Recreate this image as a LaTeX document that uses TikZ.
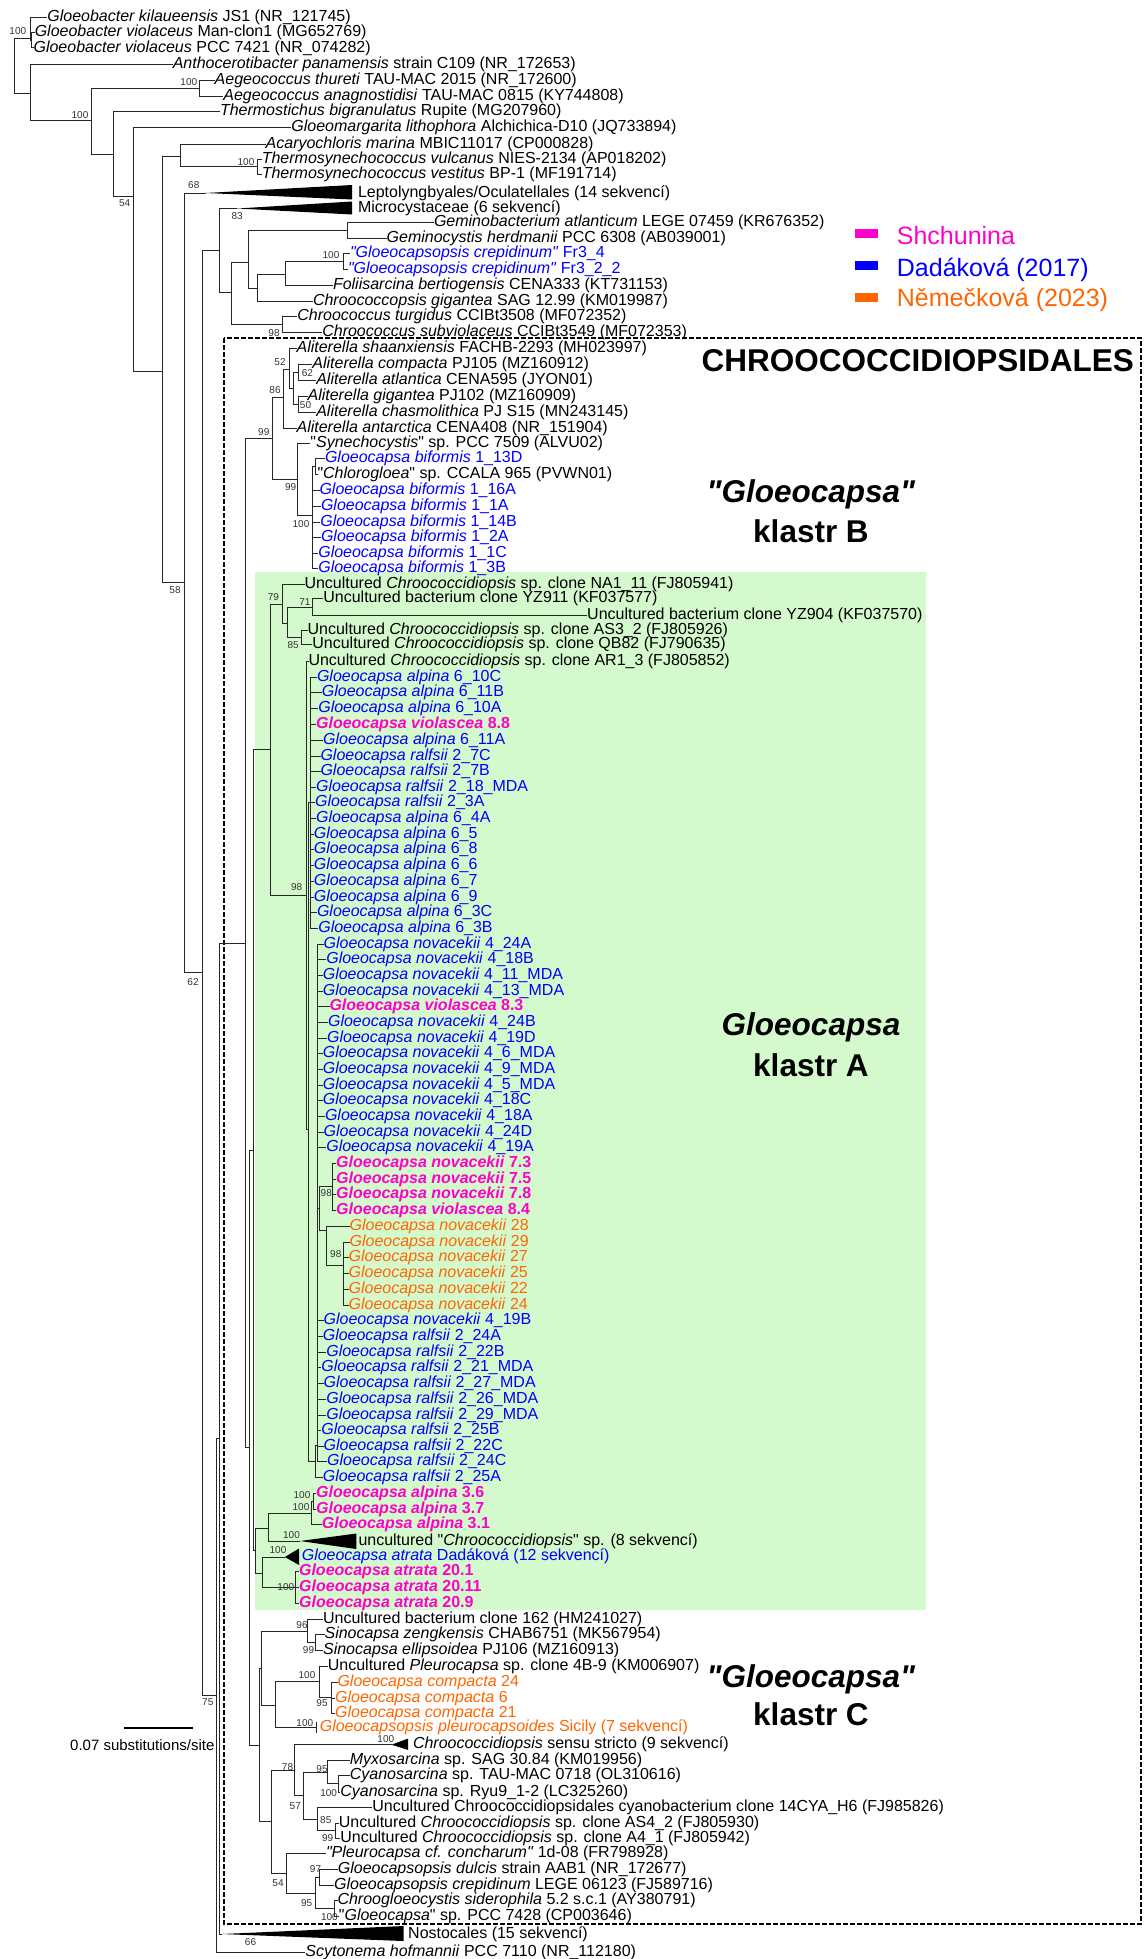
\documentclass[tikz,border=0pt]{standalone}
\usepackage{fontspec}
\setmainfont{Liberation Sans}
\definecolor{dblue}{RGB}{0,0,255}
\definecolor{shmag}{RGB}{255,0,204}
\definecolor{nor}{RGB}{255,102,0}
\definecolor{greenbg}{RGB}{212,249,204}
\newcommand{\lbl}{\fontsize{16}{18}\selectfont}
\newcommand{\bsz}{\fontsize{10}{12}\selectfont}
\newcommand{\lgd}{\fontsize{25}{28}\selectfont}
\newcommand{\clf}{\fontsize{31.5}{34}\selectfont}
\newcommand{\sbf}{\fontsize{15}{17}\selectfont}
\newcommand{\qd}{\textquotedbl}
\newcommand{\GAl}{\textit{Gloeocapsa alpina}}
\newcommand{\GRa}{\textit{Gloeocapsa ralfsii}}
\newcommand{\GNo}{\textit{Gloeocapsa novacekii}}
\newcommand{\GVi}{\textit{Gloeocapsa violascea}}
\newcommand{\GBi}{\textit{Gloeocapsa biformis}}
\newcommand{\UCh}{Uncultured \textit{Chroococcidiopsis} sp. clone}
\begin{document}
\begin{tikzpicture}[x=1pt,y=-1pt,
 br/.style={line width=1pt, draw=black!85},
 leaf/.style={anchor=west, inner sep=0pt, outer sep=0pt, font=\lbl, text height=11.6pt, text depth=3.4pt},
 lb/.style={leaf, text=dblue},
 lm/.style={leaf, text=shmag, font=\lbl\bfseries},
 lo/.style={leaf, text=nor},
 bs/.style={font=\bsz, text=black!80, inner sep=0pt},
 tri/.style={fill=black},
 clab/.style={font=\clf\bfseries, inner sep=0pt, text height=22.9pt, text depth=6.6pt},
 key/.style={minimum width=22.6pt, minimum height=9pt, inner sep=0pt, draw=none},
 lgt/.style={anchor=west, font=\lgd, inner sep=0pt, text height=18.2pt, text depth=5.25pt},
 dashbox/.style={line width=2.2pt, dash pattern=on 4.5pt off 2.5pt}
]
\useasboundingbox (0,0) rectangle (1144,1959);
\fill[white] (0,0) rectangle (1144,1959);
\fill[greenbg] (255,572) rectangle (926,1609.5);
\draw[dashbox] (224.3,338) rectangle (1141,1924);

% ---------- leaves ----------
\node[leaf] (L1) at (47.4,17.5) {\textit{Gloeobacter kilaueensis} JS1 (NR\_121745)};
\node[leaf] (L2) at (34.8,32.7) {\textit{Gloeobacter violaceus} Man-clon1 (MG652769)};
\node[leaf] (L3) at (33.6,48) {\textit{Gloeobacter violaceus} PCC 7421 (NR\_074282)};
\node[leaf] (L4) at (172.8,64.7) {\textit{Anthocerotibacter panamensis} strain C109 (NR\_172653)};
\node[leaf] (L5) at (214.7,80.5) {\textit{Aegeococcus thureti} TAU-MAC 2015 (NR\_172600)};
\node[leaf] (L6) at (223.4,96.3) {\textit{Aegeococcus anagnostidisi} TAU-MAC 0815 (KY744808)};
\node[leaf] (L7) at (220,111.5) {\textit{Thermostichus bigranulatus} Rupite (MG207960)};
\node[leaf] (L8) at (291.4,127.3) {\textit{Gloeomargarita lithophora} Alchichica-D10 (JQ733894)};
\node[leaf] (L9) at (265.7,144.2) {\textit{Acaryochloris marina} MBIC11017 (CP000828)};
\node[leaf] (L10) at (261.8,159) {\textit{Thermosynechococcus vulcanus} NIES-2134 (AP018202)};
\node[leaf] (L11) at (261.8,174.7) {\textit{Thermosynechococcus vestitus} BP-1 (MF191714)};
\node[leaf] (L12) at (358,193) {Leptolyngbyales/Oculatellales (14 sekvencí)};
\node[leaf] (L13) at (358,208.5) {Microcystaceae (6 sekvencí)};
\node[leaf] (L14) at (434,222.5) {\textit{Geminobacterium atlanticum} LEGE 07459 (KR676352)};
\node[leaf] (L15) at (386.7,238.5) {\textit{Geminocystis herdmanii} PCC 6308 (AB039001)};
\node[lb] (L16) at (350,253.7) {\textit{\qd Gloeocapsopsis crepidinum\qd} Fr3\_4};
\node[lb] (L17) at (348,269.3) {\textit{\qd Gloeocapsopsis crepidinum\qd} Fr3\_2\_2};
\node[leaf] (L18) at (333,285.3) {\textit{Foliisarcina bertiogensis} CENA333 (KT731153)};
\node[leaf] (L19) at (313,301) {\textit{Chroococcopsis gigantea} SAG 12.99 (KM019987)};
\node[leaf] (L20) at (297.4,316.3) {\textit{Chroococcus turgidus} CCIBt3508 (MF072352)};
\node[leaf] (L21) at (322.3,332) {\textit{Chroococcus subviolaceus} CCIBt3549 (MF072353)};
\node[leaf] (L22) at (296.6,348.7) {\textit{Aliterella shaanxiensis} FACHB-2293 (MH023997)};
\node[leaf] (L23) at (312.4,364.7) {\textit{Aliterella compacta} PJ105 (MZ160912)};
\node[leaf] (L24) at (316.3,380.3) {\textit{Aliterella atlantica} CENA595 (JYON01)};
\node[leaf] (L25) at (307.6,396) {\textit{Aliterella gigantea} PJ102 (MZ160909)};
\node[leaf] (L26) at (316.3,412) {\textit{Aliterella chasmolithica} PJ S15 (MN243145)};
\node[leaf] (L27) at (296.6,428) {\textit{Aliterella antarctica} CENA408 (NR\_151904)};
\node[leaf] (L28) at (310.4,443.7) {\qd\textit{Synechocystis}\qd{} sp. PCC 7509 (ALVU02)};
\node[lb] (L29) at (325,458.7) {\GBi{} 1\_13D};
\node[leaf] (L30) at (317.5,474.7) {\qd\textit{Chlorogloea}\qd{} sp. CCALA 965 (PVWN01)};
\node[lb] (L31) at (319.5,490.3) {\GBi{} 1\_16A};
\node[lb] (L32) at (321,506) {\GBi{} 1\_1A};
\node[lb] (L33) at (320.3,522) {\GBi{} 1\_14B};
\node[lb] (L34) at (321,537.7) {\GBi{} 1\_2A};
\node[lb] (L35) at (318.3,553) {\GBi{} 1\_1C};
\node[lb] (L36) at (318.3,568.7) {\GBi{} 1\_3B};
\node[leaf] (L37) at (304.5,584.5) {\UCh{} NA1\_11 (FJ805941)};
\node[leaf] (L38) at (323.4,598.7) {Uncultured bacterium clone YZ911 (KF037577)};
\node[leaf] (L39) at (587.2,615.3) {Uncultured bacterium clone YZ904 (KF037570)};
\node[leaf] (L40) at (307.6,630.3) {\UCh{} AS3\_2 (FJ805926)};
\node[leaf] (L41) at (312.4,644.7) {\UCh{} QB82 (FJ790635)};
\node[leaf] (L42) at (308.5,661.3) {\UCh{} AR1\_3 (FJ805852)};
\node[lb] (L43) at (317,677) {\GAl{} 6\_10C};
\node[lb] (L44) at (321.9,692.7) {\GAl{} 6\_11B};
\node[lb] (L45) at (318.3,708.7) {\GAl{} 6\_10A};
\node[lm] (L46) at (316.1,724) {\GVi{} 8.8};
\node[lb] (L47) at (323.2,740.3) {\GAl{} 6\_11A};
\node[lb] (L48) at (320.5,756) {\GRa{} 2\_7C};
\node[lb] (L49) at (320.5,771.3) {\GRa{} 2\_7B};
\node[lb] (L50) at (316.1,787) {\GRa{} 2\_18\_MDA};
\node[lb] (L51) at (315.2,802.7) {\GRa{} 2\_3A};
\node[lb] (L52) at (316.1,818.7) {\GAl{} 6\_4A};
\node[lb] (L53) at (313.8,834.3) {\GAl{} 6\_5};
\node[lb] (L54) at (313.8,849.7) {\GAl{} 6\_8};
\node[lb] (L55) at (313.8,865.3) {\GAl{} 6\_6};
\node[lb] (L56) at (313.8,881) {\GAl{} 6\_7};
\node[lb] (L57) at (313.8,897) {\GAl{} 6\_9};
\node[lb] (L58) at (317,912.7) {\GAl{} 6\_3C};
\node[lb] (L59) at (318.3,928) {\GAl{} 6\_3B};
\node[lb] (L60) at (323.7,944.3) {\GNo{} 4\_24A};
\node[lb] (L61) at (326.3,959.3) {\GNo{} 4\_18B};
\node[lb] (L62) at (322.8,975.3) {\GNo{} 4\_11\_MDA};
\node[lb] (L63) at (322.8,991) {\GNo{} 4\_13\_MDA};
\node[lm] (L64) at (329.5,1006.3) {\GVi{} 8.3};
\node[lb] (L65) at (328.1,1022.3) {\GNo{} 4\_24B};
\node[lb] (L66) at (327.2,1038) {\GNo{} 4\_19D};
\node[lb] (L67) at (322.8,1053.7) {\GNo{} 4\_6\_MDA};
\node[lb] (L68) at (322.8,1069.3) {\GNo{} 4\_9\_MDA};
\node[lb] (L69) at (322.8,1085) {\GNo{} 4\_5\_MDA};
\node[lb] (L70) at (322.8,1100.7) {\GNo{} 4\_18C};
\node[lb] (L71) at (325,1116.3) {\GNo{} 4\_18A};
\node[lb] (L72) at (323.7,1132) {\GNo{} 4\_24D};
\node[lb] (L73) at (326.3,1147.7) {\GNo{} 4\_19A};
\node[lm] (L74) at (336.2,1163.3) {\GNo{} 7.3};
\node[lm] (L75) at (336.2,1179) {\GNo{} 7.5};
\node[lm] (L76) at (336.2,1194.7) {\GNo{} 7.8};
\node[lm] (L77) at (336.2,1210.3) {\GVi{} 8.4};
\node[lo] (L78) at (349.6,1226.3) {\GNo{} 28};
\node[lo] (L79) at (349.6,1242) {\GNo{} 29};
\node[lo] (L80) at (348.7,1257.7) {\GNo{} 27};
\node[lo] (L81) at (348.7,1273.7) {\GNo{} 25};
\node[lo] (L82) at (348.7,1289.3) {\GNo{} 22};
\node[lo] (L83) at (348.7,1305) {\GNo{} 24};
\node[lb] (L84) at (323.7,1320.7) {\GNo{} 4\_19B};
\node[lb] (L85) at (322.8,1336.3) {\GRa{} 2\_24A};
\node[lb] (L86) at (326.3,1352) {\GRa{} 2\_22B};
\node[lb] (L87) at (321.4,1367.7) {\GRa{} 2\_21\_MDA};
\node[lb] (L88) at (323.7,1383.3) {\GRa{} 2\_27\_MDA};
\node[lb] (L89) at (326.3,1399) {\GRa{} 2\_26\_MDA};
\node[lb] (L90) at (326.3,1415) {\GRa{} 2\_29\_MDA};
\node[lb] (L91) at (321.4,1430.3) {\GRa{} 2\_25B};
\node[lb] (L92) at (323.7,1446) {\GRa{} 2\_22C};
\node[lb] (L93) at (327.2,1461.7) {\GRa{} 2\_24C};
\node[lb] (L94) at (322.8,1477.7) {\GRa{} 2\_25A};
\node[lm] (L95) at (316.1,1493.3) {\GAl{} 3.6};
\node[lm] (L96) at (316.1,1509) {\GAl{} 3.7};
\node[lm] (L97) at (321.9,1524.7) {\GAl{} 3.1};
\node[leaf] (L98) at (358.5,1541) {uncultured \qd\textit{Chroococcidiopsis}\qd{} sp. (8 sekvencí)};
\node[lb] (L99) at (301.8,1556) {\textit{Gloeocapsa atrata} Dadáková (12 sekvencí)};
\node[lm] (L100) at (299.1,1571.7) {\textit{Gloeocapsa atrata} 20.1};
\node[lm] (L101) at (299.2,1587.7) {\textit{Gloeocapsa atrata} 20.11};
\node[lm] (L102) at (299.2,1603.7) {\textit{Gloeocapsa atrata} 20.9};
\node[leaf] (L103) at (323.1,1619.7) {Uncultured bacterium clone 162 (HM241027)};
\node[leaf] (L104) at (324.6,1634.7) {\textit{Sinocapsa zengkensis} CHAB6751 (MK567954)};
\node[leaf] (L105) at (323.1,1650.7) {\textit{Sinocapsa ellipsoidea} PJ106 (MZ160913)};
\node[leaf] (L106) at (327.9,1666.3) {Uncultured \textit{Pleurocapsa} sp. clone 4B-9 (KM006907)};
\node[lo] (L107) at (337.5,1682) {\textit{Gloeocapsa compacta} 24};
\node[lo] (L108) at (335.1,1698) {\textit{Gloeocapsa compacta} 6};
\node[lo] (L109) at (335.1,1713) {\textit{Gloeocapsa compacta} 21};
\node[lo] (L110) at (319.8,1727.5) {\textit{Gloeocapsopsis pleurocapsoides} Sicily (7 sekvencí)};
\node[leaf] (L111) at (413,1744.7) {\textit{Chroococcidiopsis} sensu stricto (9 sekvencí)};
\node[leaf] (L112) at (349.9,1760.3) {\textit{Myxosarcina} sp. SAG 30.84 (KM019956)};
\node[leaf] (L113) at (349.9,1775.3) {\textit{Cyanosarcina} sp. TAU-MAC 0718 (OL310616)};
\node[leaf] (L114) at (340.3,1792) {\textit{Cyanosarcina} sp. Ryu9\_1-2 (LC325260)};
\node[leaf] (L115) at (372.4,1807.3) {Uncultured Chroococcidiopsidales cyanobacterium clone 14CYA\_H6 (FJ985826)};
\node[leaf] (L116) at (338.9,1823) {\UCh{} AS4\_2 (FJ805930)};
\node[leaf] (L117) at (340.3,1838.7) {\UCh{} A4\_1 (FJ805942)};
\node[leaf] (L118) at (326,1853.7) {\textit{\qd Pleurocapsa cf. concharum\qd} 1d-08 (FR798928)};
\node[leaf] (L119) at (337.9,1869.7) {\textit{Gloeocapsopsis dulcis} strain AAB1 (NR\_172677)};
\node[leaf] (L120) at (334.1,1885.3) {\textit{Gloeocapsopsis crepidinum} LEGE 06123 (FJ589716)};
\node[leaf] (L121) at (337.5,1900.3) {\textit{Chroogloeocystis siderophila} 5.2 s.c.1 (AY380791)};
\node[leaf] (L122) at (338.9,1916.3) {\qd\textit{Gloeocapsa}\qd{} sp. PCC 7428 (CP003646)};
\node[leaf] (L123) at (408.2,1934) {Nostocales (15 sekvencí)};
\node[leaf] (L124) at (305.4,1952.5) {\textit{Scytonema hofmannii} PCC 7110 (NR\_112180)};

% ---------- internal nodes ----------
\coordinate (r0) at (14.6,65.5);
\coordinate (g0) at (30.8,38.3);
\coordinate (g1) at (31.6,40.3);
\coordinate (nA) at (30.8,93);
\coordinate (nB) at (91.7,120.7);
\coordinate (nAeg) at (199.7,88.6);
\coordinate (nC) at (113.5,154.3);
\coordinate (nD) at (133.3,196);
\coordinate (nE) at (162,371);
\coordinate (nF) at (180.7,156);
\coordinate (nTs) at (257,166.8);
\coordinate (nG) at (184.7,582.4);
\coordinate (nH) at (202.4,972);
\coordinate (nJ) at (219.5,250);
\coordinate (nL) at (231.3,292);
\coordinate (nM) at (248.3,262);
\coordinate (nCc) at (282.7,324.2);
\coordinate (nGem) at (347.2,230.5);
\coordinate (nN) at (257,288);
\coordinate (nO) at (285.9,274);
\coordinate (nGc) at (343.2,261.5);
\coordinate (nK) at (216,1695.7);
\coordinate (nN2) at (219.3,1438.5);
\coordinate (nCH) at (245.5,943);
\coordinate (nAB) at (272.8,438.2);
\coordinate (n86) at (283.9,397);
\coordinate (n52) at (289.5,369);
\coordinate (n5x) at (293.5,388.5);
\coordinate (n62) at (298,372.5);
\coordinate (n50) at (298,404);
\coordinate (n99b) at (297.3,479.3);
\coordinate (n100b) at (312.4,515);
\coordinate (nb1) at (315.2,466.7);
\coordinate (nAC) at (249,1447.5);
\coordinate (nGreen) at (253.5,1150.2);
\coordinate (nR) at (270.7,749.6);
\coordinate (nS) at (282.7,604);
\coordinate (n71g) at (287.9,623.3);
\coordinate (n71) at (312.4,607);
\coordinate (n85u) at (301.3,637.5);
\coordinate (nT) at (306,895);
\coordinate (nU) at (308.5,1129);
\coordinate (nA1) at (310.3,802.5);
\coordinate (nBq) at (315.2,1461);
\coordinate (nBB) at (317.4,1445);
\coordinate (nMO) at (319.6,1208.4);
\coordinate (nM98) at (332.6,1186.8);
\coordinate (nOr) at (326.3,1230);
\coordinate (nO98) at (343.8,1265.7);
\coordinate (nBot) at (255.5,1550.8);
\coordinate (nUA) at (268.3,1528.5);
\coordinate (nAl3) at (311.7,1513);
\coordinate (nAl36) at (313.5,1501);
\coordinate (nAtr) at (262.7,1573);
\coordinate (n20) at (295,1587.7);
\coordinate (nCk) at (259.5,1745);
\coordinate (nC2) at (261,1668);
\coordinate (n96) at (307.8,1631);
\coordinate (n99s) at (315,1642.7);
\coordinate (nPl) at (275.3,1705);
\coordinate (n100p) at (319.8,1681.7);
\coordinate (n95c) at (331.7,1697.5);
\coordinate (bar110) at (316.4,1727.5);
\coordinate (nLow) at (271.7,1821.7);
\coordinate (n78) at (294,1770);
\coordinate (n57) at (303.3,1795.5);
\coordinate (n95m) at (327.9,1772);
\coordinate (n100c) at (338,1783.6);
\coordinate (nUnc) at (317.4,1819);
\coordinate (n85b) at (335.6,1830.9);
\coordinate (n54) at (286.3,1873.3);
\coordinate (n95g) at (315,1893);
\coordinate (n97) at (319.8,1877.5);
\coordinate (n100g) at (334.1,1908.3);
% triangle tips
\coordinate (t12) at (205.6,193);
\coordinate (t13) at (237.2,208.5);
\coordinate (t98) at (300,1541);
\coordinate (t99) at (284.8,1557);
\coordinate (t111) at (391.5,1744.7);
\coordinate (t123) at (221.7,1934);

% ---------- collapsed clades ----------
\fill[tri] (t12) -- (352,185) -- (352,199.5) -- cycle;
\fill[tri] (t13) -- (352,201.5) -- (352,214.5) -- cycle;
\fill[tri] (t98) -- (356.3,1533.5) -- (356.3,1549) -- cycle;
\fill[tri] (t99) -- (299.1,1548.5) -- (299.1,1565) -- cycle;
\fill[tri] (t111) -- (408.2,1738.5) -- (408.2,1750) -- cycle;
\fill[tri] (t123) -- (403.5,1926) -- (403.5,1941) -- cycle;
\draw[br] (316.4,1722) -- (316.4,1733);

% ---------- branches ----------
\draw[br] (r0) |- (g0);  \draw[br] (r0) |- (nA);
\draw[br] (g0) |- (L1.west); \draw[br] (g0) |- (g1);
\draw[br] (g1) |- (L2.west); \draw[br] (g1) |- (L3.west);
\draw[br] (nA) |- (L4.west); \draw[br] (nA) |- (nB);
\draw[br] (nB) |- (nAeg); \draw[br] (nB) |- (nC);
\draw[br] (nAeg) |- (L5.west); \draw[br] (nAeg) |- (L6.west);
\draw[br] (nC) |- (L7.west); \draw[br] (nC) |- (nD);
\draw[br] (nD) |- (L8.west); \draw[br] (nD) |- (nE);
\draw[br] (nE) |- (nF); \draw[br] (nE) |- (nG);
\draw[br] (nF) |- (L9.west); \draw[br] (nF) |- (nTs);
\draw[br] (nTs) |- (L10.west); \draw[br] (nTs) |- (L11.west);
\draw[br] (nG) |- (t12); \draw[br] (nG) |- (nH);
\draw[br] (nH) |- (nJ); \draw[br] (nH) |- (nK);
\draw[br] (nJ) |- (t13); \draw[br] (nJ) |- (nL);
\draw[br] (nL) |- (nM); \draw[br] (nL) |- (nCc);
\draw[br] (nCc) |- (L20.west); \draw[br] (nCc) |- (L21.west);
\draw[br] (nM) |- (nGem); \draw[br] (nM) |- (nN);
\draw[br] (nGem) |- (L14.west); \draw[br] (nGem) |- (L15.west);
\draw[br] (nN) |- (nO); \draw[br] (nN) |- (L19.west);
\draw[br] (nO) |- (nGc); \draw[br] (nO) |- (L18.west);
\draw[br] (nGc) |- (L16.west); \draw[br] (nGc) |- (L17.west);
\draw[br] (nK) |- (nN2); \draw[br] (nK) |- (L124.west);
\draw[br] (nN2) |- (nCH); \draw[br] (nN2) |- (t123);
\draw[br] (nCH) |- (nAB); \draw[br] (nCH) |- (nAC);
\draw[br] (nAB) |- (n86); \draw[br] (nAB) |- (n99b);
\draw[br] (n86) |- (n52); \draw[br] (n86) |- (L27.west);
\draw[br] (n52) |- (L22.west); \draw[br] (n52) |- (n5x);
\draw[br] (n5x) |- (n62); \draw[br] (n5x) |- (n50);
\draw[br] (n62) |- (L23.west); \draw[br] (n62) |- (L24.west);
\draw[br] (n50) |- (L25.west); \draw[br] (n50) |- (L26.west);
\draw[br] (n99b) |- (L28.west); \draw[br] (n99b) |- (n100b);
\draw[br] (n100b) |- (nb1);
\foreach \i in {31,...,36} \draw[br] (n100b) |- (L\i.west);
\draw[br] (nb1) |- (L29.west); \draw[br] (nb1) |- (L30.west);
\draw[br] (nAC) |- (nGreen); \draw[br] (nAC) |- (nCk);
\draw[br] (nGreen) |- (nR); \draw[br] (nGreen) |- (nBot);
\draw[br] (nR) |- (nS); \draw[br] (nR) |- (nT);
\draw[br] (nS) |- (L37.west); \draw[br] (nS) |- (n71g);
\draw[br] (n71g) |- (n71); \draw[br] (n71g) |- (n85u);
\draw[br] (n71) |- (L38.west); \draw[br] (n71) |- (L39.west);
\draw[br] (n85u) |- (L40.west); \draw[br] (n85u) |- (L41.west);
\draw[br] (nT) |- (L42.west); \draw[br] (nT) |- (nU);
\draw[br] (nU) |- (nA1); \draw[br] (nU) |- (nBq);
\foreach \i in {43,...,59} \draw[br] (nA1) |- (L\i.west);
\draw[br] (nBq) |- (nBB); \draw[br] (nBq) |- (L94.west);
\foreach \i in {60,...,73} \draw[br] (nBB) |- (L\i.west);
\foreach \i in {84,...,93} \draw[br] (nBB) |- (L\i.west);
\draw[br] (nBB) |- (nMO);
\draw[br] (nMO) |- (nM98); \draw[br] (nMO) |- (nOr);
\foreach \i in {74,...,77} \draw[br] (nM98) |- (L\i.west);
\draw[br] (nOr) |- (L78.west); \draw[br] (nOr) |- (nO98);
\foreach \i in {79,...,83} \draw[br] (nO98) |- (L\i.west);
\draw[br] (nBot) |- (nUA); \draw[br] (nBot) |- (nAtr);
\draw[br] (nUA) |- (nAl3); \draw[br] (nUA) |- (t98);
\draw[br] (nAl3) |- (nAl36); \draw[br] (nAl3) |- (L97.west);
\draw[br] (nAl36) |- (L95.west); \draw[br] (nAl36) |- (L96.west);
\draw[br] (nAtr) |- (t99); \draw[br] (nAtr) |- (n20);
\foreach \i in {100,101,102} \draw[br] (n20) |- (L\i.west);
\draw[br] (nCk) |- (nC2); \draw[br] (nCk) |- (nLow);
\draw[br] (nC2) |- (n96); \draw[br] (nC2) |- (nPl);
\draw[br] (n96) |- (L103.west); \draw[br] (n96) |- (n99s);
\draw[br] (n99s) |- (L104.west); \draw[br] (n99s) |- (L105.west);
\draw[br] (nPl) |- (n100p); \draw[br] (nPl) |- (bar110);
\draw[br] (n100p) |- (L106.west); \draw[br] (n100p) |- (n95c);
\foreach \i in {107,108,109} \draw[br] (n95c) |- (L\i.west);
\draw[br] (nLow) |- (n78); \draw[br] (nLow) |- (n54);
\draw[br] (n78) |- (t111); \draw[br] (n78) |- (n57);
\draw[br] (n57) |- (n95m); \draw[br] (n57) |- (nUnc);
\draw[br] (n95m) |- (L112.west); \draw[br] (n95m) |- (n100c);
\draw[br] (n100c) |- (L113.west); \draw[br] (n100c) |- (L114.west);
\draw[br] (nUnc) |- (L115.west); \draw[br] (nUnc) |- (n85b);
\draw[br] (n85b) |- (L116.west); \draw[br] (n85b) |- (L117.west);
\draw[br] (n54) |- (L118.west); \draw[br] (n54) |- (n95g);
\draw[br] (n95g) |- (n97); \draw[br] (n95g) |- (n100g);
\draw[br] (n97) |- (L119.west); \draw[br] (n97) |- (L120.west);
\draw[br] (n100g) |- (L121.west); \draw[br] (n100g) |- (L122.west);

% ---------- bootstrap values ----------
\node[bs] (b1) at (17.8,30.7) {100};
\node[bs] (b2) at (188.8,81.7) {100};
\node[bs] (b3) at (80,115) {100};
\node[bs] (b4) at (124.6,203.3) {54};
\node[bs] (b5) at (246,162.3) {100};
\node[bs] (b6) at (193.8,185) {68};
\node[bs] (b7) at (237.2,216.5) {83};
\node[bs] (b8) at (331,255) {100};
\node[bs] (b9) at (274,333.3) {98};
\node[bs] (b10) at (280,361.7) {52};
\node[bs] (b11) at (307.4,373.3) {62};
\node[bs] (b12) at (275,390) {86};
\node[bs] (b13) at (305.5,405) {50};
\node[bs] (b14) at (263.8,431.7) {99};
\node[bs] (b15) at (290.6,486.7) {99};
\node[bs] (b16) at (301,524) {100};
\node[bs] (b17) at (175,590) {58};
\node[bs] (b18) at (273.4,596.7) {79};
\node[bs] (b19) at (304.9,601.7) {71};
\node[bs] (b20) at (293.2,645) {85};
\node[bs] (b21) at (296.6,887.3) {98};
\node[bs] (b22) at (193,981.7) {62};
\node[bs] (b23) at (326.3,1192.7) {98};
\node[bs] (b24) at (335.8,1254) {98};
\node[bs] (b25) at (302,1495) {100};
\node[bs] (b26) at (301,1507.3) {100};
\node[bs] (b27) at (291.5,1535) {100};
\node[bs] (b28) at (278,1550) {100};
\node[bs] (b29) at (285.8,1586.7) {100};
\node[bs] (b30) at (207.8,1701.7) {75};
\node[bs] (b31) at (302,1625) {96};
\node[bs] (b32) at (308.5,1650) {99};
\node[bs] (b33) at (307,1675) {100};
\node[bs] (b34) at (322,1703.3) {95};
\node[bs] (b35) at (304.8,1723.3) {100};
\node[bs] (b36) at (385.8,1739.3) {100};
\node[bs] (b37) at (287.5,1766.7) {78};
\node[bs] (b38) at (322,1769.3) {95};
\node[bs] (b39) at (328.6,1793.3) {100};
\node[bs] (b40) at (295.3,1806) {57};
\node[bs] (b41) at (325.8,1820) {85};
\node[bs] (b42) at (327.6,1838.3) {99};
\node[bs] (b43) at (315.5,1869.3) {97};
\node[bs] (b44) at (278,1883.3) {54};
\node[bs] (b45) at (306.6,1902.7) {95};
\node[bs] (b46) at (329.4,1916.7) {100};
\node[bs] (b47) at (250.5,1941.7) {66};

% ---------- labels, legend, scale ----------
\node[clab, anchor=east] (title) at (1134,363) {CHROOCOCCIDIOPSIDALES};
\node[clab] (kb1) at (811,494.8) {\textit{\qd Gloeocapsa\qd}};
\node[clab] (kb2) at (811,534.8) {klastr B};
\node[clab] (ka1) at (811,1027) {\textit{Gloeocapsa}};
\node[clab] (ka2) at (811,1068) {klastr A};
\node[clab] (kc1) at (811,1679.5) {\textit{\qd Gloeocapsa\qd}};
\node[clab] (kc2) at (811,1717) {klastr C};

\node[key, fill=shmag] (k1) at (866.3,233) {};
\node[key, fill=dblue] (k2) at (866.3,265) {};
\node[key, fill=nor] (k3) at (866.3,297) {};
\node[lgt, text=shmag] (k1t) at (896.7,238) {Shchunina};
\node[lgt, text=dblue] (k2t) at (896.7,270) {Dadáková (2017)};
\node[lgt, text=nor] (k3t) at (896.7,300) {Němečková (2023)};

\coordinate (s1) at (124.3,1728);
\coordinate (s2) at (192.7,1728);
\draw[line width=1.6pt] (s1) -- (s2);
\node[anchor=west, font=\sbf, inner sep=0pt, text height=10.9pt, text depth=3.2pt] (sbt) at (70,1747) {0.07 substitutions/site};
\end{tikzpicture}
\end{document}
